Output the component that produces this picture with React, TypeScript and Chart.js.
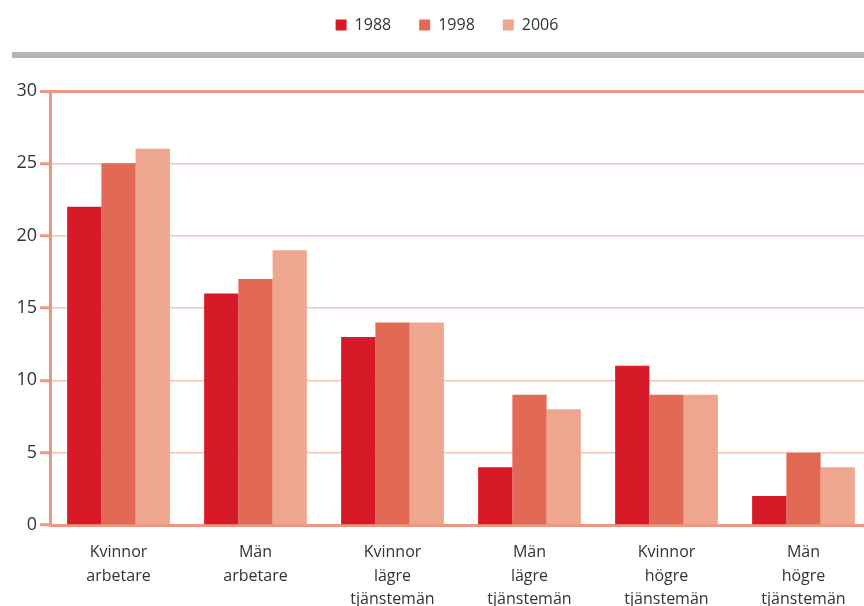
import React, { useEffect, useRef } from "react";
import { Chart, registerables } from "chart.js";

Chart.register(...registerables);

const categories: string[][] = [
  ["Kvinnor", "arbetare"],
  ["Män", "arbetare"],
  ["Kvinnor", "lägre", "tjänstemän"],
  ["Män", "lägre", "tjänstemän"],
  ["Kvinnor", "högre", "tjänstemän"],
  ["Män", "högre", "tjänstemän"],
];
const seriesNames = ["1988", "1998", "2006"];
const values1988 = [22, 16, 13, 4, 11, 2];
const values1998 = [25, 17, 14, 9, 9, 5];
const values2006 = [26, 19, 14, 8, 9, 4];
const seriesColors = ["#D71A28", "#E26A55", "#EFA68E"];

const FONT = "'Open Sans', 'DejaVu Sans', sans-serif";

const bandPlugin = {
  id: "grayBand",
  afterDraw(chart: any) {
    const ctx = chart.ctx;
    ctx.save();
    ctx.fillStyle = "#B3B4B8";
    ctx.fillRect(12, 52, chart.width - 12, 6);
    ctx.restore();
  },
};

const legendLayoutPlugin = {
  id: "legendLayout",
  beforeInit(chart: any) {
    const lg = chart.legend;
    if (!lg) return;
    const orig = lg.fit.bind(lg);
    lg.fit = function () {
      orig();
      this.height = 91;
    };
  },
  afterLayout(chart: any) {
    const lg = chart.legend;
    if (!lg) return;
    lg.top -= 11;
    lg.left += 11;
    lg.right += 11;
  },
};

export default function App() {
  const ref = useRef<HTMLCanvasElement | null>(null);
  useEffect(() => {
    document.body.style.margin = "0";
    if (!ref.current) return;
    const chart = new Chart(ref.current, {
      type: "bar",
      data: {
        labels: categories,
        datasets: [values1988, values1998, values2006].map((d, i) => ({
          label: seriesNames[i],
          data: d,
          backgroundColor: seriesColors[i],
          borderWidth: 0,
          categoryPercentage: 0.75,
          barPercentage: 1.0,
        })),
      },
      options: {
        responsive: false,
        animation: false,
        layout: { padding: 0 },
        plugins: {
          tooltip: { enabled: false },
          legend: {
            position: "top",
            labels: {
              boxWidth: 11,
              boxHeight: 11,
              padding: 28,
              color: "#333",
              font: { family: FONT, size: 16 },
            },
          },
        },
        scales: {
          x: {
            afterFit: (scale: any) => {
              scale.height = 81;
            },
            grid: { display: false, drawTicks: false },
            border: { display: true, color: "#EE9682", width: 3 },
            ticks: {
              color: "#333",
              font: { family: FONT, size: 16, lineHeight: 1.46 },
              padding: 16,
              maxRotation: 0,
              autoSkip: false,
            },
          },
          y: {
            min: 0,
            max: 30,
            afterFit: (scale: any) => {
              scale.width = 50;
            },
            ticks: {
              stepSize: 5,
              color: "#333",
              font: { family: FONT, size: 18 },
              padding: 3,
            },
            grid: {
              color: (c: any) =>
                c.tick && c.tick.value === 30 ? "#EE9682" : "#F6C3B4",
              lineWidth: (c: any) => (c.tick && c.tick.value === 30 ? 3 : 1.5),
              tickColor: "#EE9682",
              tickLength: 10,
              tickWidth: 3,
            },
            border: { display: true, color: "#EE9682", width: 3 },
          },
        },
      },
      plugins: [legendLayoutPlugin, bandPlugin],
    });
    return () => chart.destroy();
  }, []);
  return (
    <div style={{ width: 864, height: 606, overflow: "hidden", position: "relative" }}>
      <canvas ref={ref} width={872} height={606} style={{ display: "block" }} />
    </div>
  );
}
